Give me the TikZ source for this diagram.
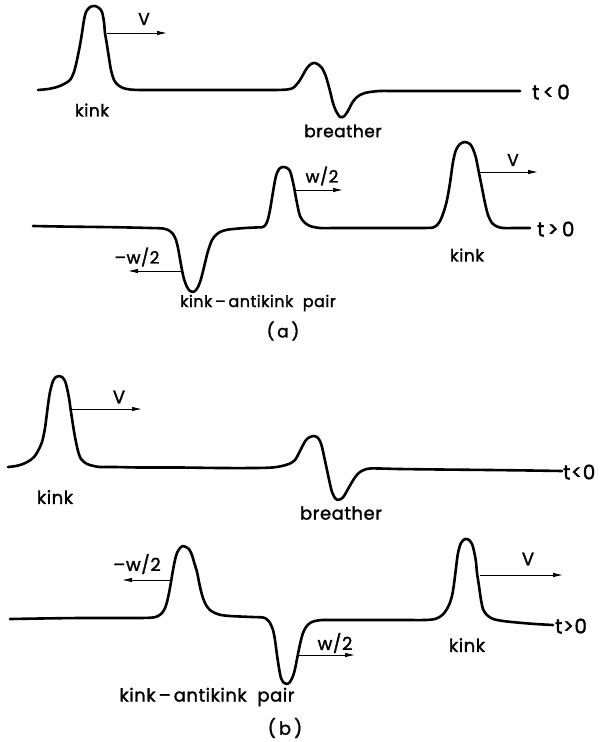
\documentclass[tikz,border=0pt]{standalone}
\usepackage{fontspec}
\setmainfont{Poppins}[FakeBold=1.6, LetterSpace=3]
\usetikzlibrary{arrows.meta}
\begin{document}
\begin{tikzpicture}[x=1pt,y=-1pt,
  wave/.style={line width=2.6pt, line join=round, line cap=round},
  vel/.style={line width=0.9pt, -{Latex[length=10pt,width=4.5pt]}},
  lbl/.style={font=\fontsize{17}{20}\selectfont, inner sep=0pt},
  lblb/.style={font=\fontsize{18}{21}\selectfont, inner sep=0pt},
  rel/.style={font=\fontsize{20}{22}\selectfont, inner sep=0pt},
]
\fill[white] (0,0) rectangle (611,742);
\useasboundingbox (0,0) rectangle (611,742);

% ---------------- panel (a), t<0 ----------------
\draw[wave] plot[smooth, tension=0.5] coordinates {
(38,90) (48,89) (57,87) (64,84) (70,80) (74,72) (77,60) (80,45) (82,33) (84,20)
(86,12) (90,7) (95,6) (99,8) (102,12) (104,22) (105,33) (107,45) (109,58) (111,70)
(114,80) (118,85) (123,88) (130,89.5) (140,90) (155,90) (180,90) (220,90) (255,90)
(275,90) (287,89.5) (293,88) (297,84) (300,80) (304,73) (307,68) (311,64) (315,63)
(319,65) (322,68) (325,74) (327,80) (330,91) (333,103) (336,111) (340,117) (343,117)
(346,114) (349,109) (352,103) (356,98) (360,95) (365,93) (370,92) (380,91) (395,91)
(420,91) (460,91) (500,91) (520,91)};
\coordinate (av0) at (107,33);
\coordinate (av1) at (167,33);
\draw[vel] (av0) -- (av1);
\node[lbl] (aV) at (144,19) {V};
\node[lbl] (akink1) at (92,110) {kink};
\node[lbl] (abreather) at (343,131) {breather};
\node[rel, anchor=west] (atl) at (532,92) {t\,<\,0};

% ---------------- panel (a), t>0 ----------------
\draw[wave] plot[smooth, tension=0.5] coordinates {
(33,226) (60,226.5) (100,227) (130,227.5) (150,228) (163,228.5) (169,230.5) (173,234)
(176,240) (178,248) (180,259) (182,270) (184,279) (187,287) (190,291) (193,292)
(196,290) (198,287) (201,279) (205,263) (208,251) (212,240) (216,235) (220,232)
(226,230) (233,229) (245,228) (255,227.5) (263,227) (266,224) (268,219) (270,210)
(272,198) (274,186) (276,176) (279,169) (283,167) (287,168) (290,171) (292,178)
(294,187) (296,198) (298,208) (300,216) (304,222) (310,226) (320,228) (335,228)
(360,228) (395,228) (420,228) (433,227.5) (438,224) (441,219) (444,211) (447,200)
(450,183) (453,162) (456,150) (460,144) (465,142) (470,144) (473,149) (476,158)
(478,168) (480,178) (482,188) (485,203) (488,215) (492,223) (497,226.5) (503,228)
(515,228) (530,228)};
\coordinate (amw0) at (181,271);
\coordinate (amw1) at (128,271);
\draw[vel] (amw0) -- (amw1);
\node[lbl] (amwl) at (137,257) {–w/2};
\coordinate (aw0) at (296,190);
\coordinate (aw1) at (343,190);
\draw[vel] (aw0) -- (aw1);
\node[lbl] (awl) at (322,176) {w/2};
\coordinate (av2) at (478,172);
\coordinate (av3) at (538,172);
\draw[vel] (av2) -- (av3);
\node[lbl] (aV2) at (513,160) {V};
\node[lbl] (akink2) at (467,255) {kink};
\node[rel, anchor=west] (atg) at (537,229) {t\,>\,0};
\node[lbl, font=\fontsize{16}{19}\selectfont] (apair) at (258,303) {kink\,–\,antikink\ \ pair};
\node[lbl] (acap) at (283,331) {(\,a\,)};

% ---------------- panel (b), t<0 ----------------
\draw[wave] plot[smooth, tension=0.5] coordinates {
(8,467) (16,466) (23,464) (29,461) (34,457) (38,451) (42,442) (45,428) (48,405)
(50,392) (53,381) (56,377) (59,376) (62,377) (65,381) (67,388) (69,398) (71,412)
(73,425) (75,437) (78,451) (81,459) (87,464) (94,466) (100,467) (115,467) (140,467.5)
(180,467.5) (220,468) (255,468) (272,467.5) (282,466) (290,463.5) (295,460) (299,453)
(302,447) (306,440) (310,437) (314,436) (317,437) (320,441) (322,447) (324,456)
(327,470) (330,484) (332,492) (335,498) (338,500) (341,499) (344,496) (348,489)
(352,482) (356,476) (360,472) (365,469.5) (370,468.5) (380,468.5) (400,469)
(440,469.5) (490,470) (530,470.5) (562,471)};
\coordinate (bv0) at (72,409);
\coordinate (bv1) at (142,409);
\draw[vel] (bv0) -- (bv1);
\node[lblb] (bV) at (119,397) {V};
\node[lblb] (bkink1) at (55,497) {kink};
\node[lblb] (bbreather) at (341,513) {breather};
\node[rel, anchor=west] (btl) at (563,472) {t<0};

% ---------------- panel (b), t>0 ----------------
\draw[wave] plot[smooth, tension=0.5] coordinates {
(10,619) (40,618.5) (80,618) (115,618) (140,618) (153,617.5) (158,616) (162,613)
(165,608) (167,602) (169,593) (171,582) (173,570) (175,560) (177,553) (180,548)
(183,546) (186,547) (189,549) (192,555) (194,562) (197,572) (199,582) (201,591)
(203,598) (206,605) (210,610) (215,613) (221,615) (230,616) (240,616.5) (252,617)
(263,617.5) (267,619.5) (270,623) (273,630) (275,640) (277,655) (279,668) (281,678)
(284,683) (287,684) (290,682) (293,676) (295,669) (297,659) (299,649) (301,640)
(303,633) (306,627) (310,623) (315,621) (322,620) (335,620) (355,620) (380,620)
(405,620) (425,620) (435,619) (441,616) (445,612) (449,605) (452,596) (454,584)
(456,568) (458,553) (461,543) (465,539) (469,540) (472,544) (474,551) (476,562)
(477,573) (479,586) (481,600) (483,609) (486,614) (491,618) (497,620) (507,621.5)
(517,622.5) (535,624) (553,625)};
\coordinate (bmw0) at (171,580);
\coordinate (bmw1) at (122,580);
\draw[vel] (bmw0) -- (bmw1);
\node[lblb] (bmwl) at (137,564) {–w/2};
\coordinate (bw0) at (298,655);
\coordinate (bw1) at (355,655);
\draw[vel] (bw0) -- (bw1);
\node[lblb] (bwl) at (335,643) {w/2};
\coordinate (bv2) at (480,575);
\coordinate (bv3) at (563,575);
\draw[vel] (bv2) -- (bv3);
\node[lblb] (bV2) at (528,559) {V};
\node[lblb] (bkink2) at (467,645) {kink};
\node[rel, anchor=west] (btg) at (555,626) {t>0};
\node[lblb] (bpair) at (207,697) {kink\,–\,antikink\ \ pair};
\node[lblb] (bcap) at (285,728) {(\,b\,)};
\end{tikzpicture}
\end{document}
